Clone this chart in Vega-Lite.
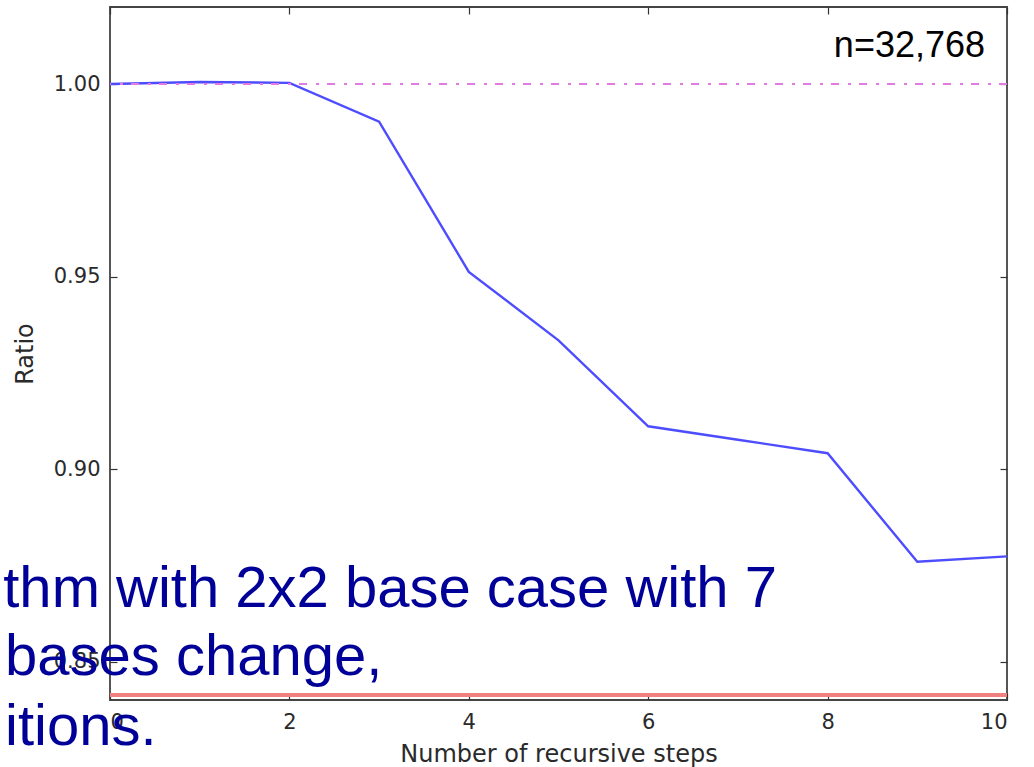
{
  "$schema": "https://vega.github.io/schema/vega-lite/v6.json",
  "autosize": "none",
  "width": 897,
  "height": 693,
  "padding": {"left": 110, "top": 7, "right": 27, "bottom": 67},
  "background": "white",
  "config": {
    "view": {"stroke": "#444444", "strokeWidth": 1.8},
    "axis": {
      "grid": false,
      "domain": false,
      "tickColor": "#333",
      "tickSize": -7,
      "tickWidth": 1.2,
      "labelFont": "DejaVu Sans",
      "labelFontSize": 21,
      "labelColor": "#2a2a2a",
      "titleFont": "DejaVu Sans",
      "titleFontSize": 24,
      "titleFontWeight": "normal",
      "titleColor": "#2a2a2a"
    }
  },
  "datasets": {
    "ratio": [
      {"steps": 0, "ratio": 1.0000},
      {"steps": 1, "ratio": 1.0005},
      {"steps": 2, "ratio": 1.0003},
      {"steps": 3, "ratio": 0.9902},
      {"steps": 4, "ratio": 0.9512},
      {"steps": 5, "ratio": 0.9334},
      {"steps": 6, "ratio": 0.9111},
      {"steps": 7, "ratio": 0.9076},
      {"steps": 8, "ratio": 0.9041},
      {"steps": 9, "ratio": 0.8759},
      {"steps": 10, "ratio": 0.8773}
    ],
    "overlay": [
      {"steps": -1.19, "ratio": 0.8642, "label": "thm with 2x2 base case with 7"},
      {"steps": -1.17, "ratio": 0.8465, "label": "bases change,"},
      {"steps": -1.17, "ratio": 0.8283, "label": "itions."}
    ],
    "note": [
      {"steps": 9.755, "ratio": 1.007, "label": "n=32,768"}
    ]
  },
  "layer": [
    {
      "data": {"name": "ratio"},
      "mark": {"type": "line", "color": "#4d4dff", "strokeWidth": 2.4},
      "encoding": {
        "x": {
          "field": "steps", "type": "quantitative",
          "scale": {"domain": [0, 10], "nice": false, "zero": false},
          "axis": {"orient": "bottom", "values": [0, 2, 4, 6, 8, 10], "title": "Number of recursive steps", "labelPadding": 18, "titlePadding": 10}
        },
        "y": {
          "field": "ratio", "type": "quantitative",
          "scale": {"domain": [0.84, 1.02], "nice": false, "zero": false},
          "axis": {"orient": "left", "values": [0.85, 0.9, 0.95, 1.0], "format": ".2f", "title": "Ratio", "labelPadding": 17, "titlePadding": 16}
        }
      }
    },
    {
      "data": {"name": "ratio"},
      "mark": {"type": "point", "opacity": 0},
      "encoding": {
        "x": {
          "field": "steps", "type": "quantitative",
          "axis": {"orient": "top", "values": [0, 2, 4, 6, 8, 10], "labels": false, "title": null}
        },
        "y": {
          "field": "ratio", "type": "quantitative",
          "axis": {"orient": "right", "values": [0.85, 0.9, 0.95, 1.0], "labels": false, "title": null}
        }
      }
    },
    {
      "data": {"name": "ratio"},
      "mark": {"type": "rule", "color": "#e27ae2", "strokeWidth": 2.2, "strokeDash": [8, 8, 3, 9]},
      "encoding": {"y": {"datum": 1.0, "type": "quantitative", "axis": null}}
    },
    {
      "data": {"name": "ratio"},
      "mark": {"type": "rule", "color": "#f08080", "strokeWidth": 3.5},
      "encoding": {"y": {"datum": 0.8413, "type": "quantitative", "axis": null}}
    },
    {
      "data": {"name": "note"},
      "mark": {"type": "text", "align": "right", "baseline": "alphabetic", "font": "Liberation Sans", "fontSize": 36, "color": "#000000"},
      "encoding": {
        "x": {"field": "steps", "type": "quantitative", "axis": null},
        "y": {"field": "ratio", "type": "quantitative", "axis": null},
        "text": {"field": "label"}
      }
    },
    {
      "data": {"name": "overlay"},
      "mark": {"type": "text", "align": "left", "baseline": "alphabetic", "font": "Liberation Sans", "fontSize": 58, "color": "#000099"},
      "encoding": {
        "x": {"field": "steps", "type": "quantitative", "axis": null},
        "y": {"field": "ratio", "type": "quantitative", "axis": null},
        "text": {"field": "label"}
      }
    }
  ],
  "resolve": {"axis": {"x": "independent", "y": "independent"}}
}
